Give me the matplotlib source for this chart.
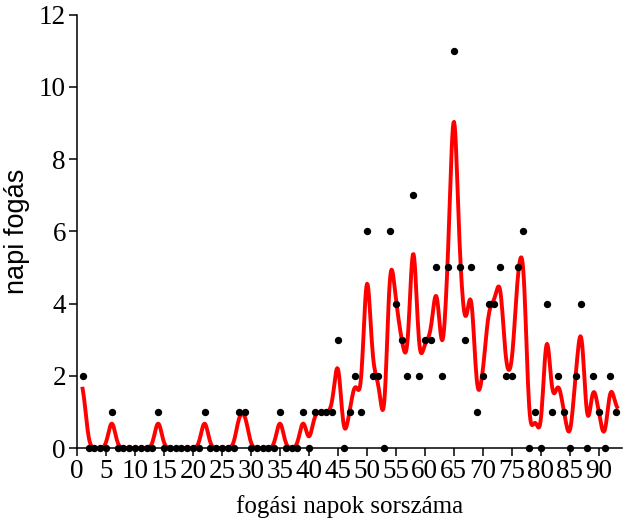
import matplotlib.pyplot as plt
import numpy as np

# daily catch per fishing day
days = np.arange(1, 94)
catch = [2, 0, 0, 0, 0, 1, 0, 0, 0, 0,
         0, 0, 0, 1, 0, 0, 0, 0, 0, 0,
         0, 1, 0, 0, 0, 0, 0, 1, 1, 0,
         0, 0, 0, 0, 1, 0, 0, 0, 1, 0,
         1, 1, 1, 1, 3, 0, 1, 2, 1, 6,
         2, 2, 0, 6, 4, 3, 2, 7, 2, 3,
         3, 5, 2, 5, 11, 5, 3, 5, 1, 2,
         4, 4, 5, 2, 2, 5, 6, 0, 1, 0,
         4, 1, 2, 1, 0, 2, 4, 0, 2, 1,
         0, 2, 1]
catch = np.array(catch, dtype=float)

x_ticks = np.arange(0, 91, 5)
y_ticks = np.arange(0, 13, 2)

# gaussian kernel smoother over the daily values
bandwidth = 0.59
grid = np.linspace(0.9, 93.3, 900)
w = np.exp(-(grid[:, None] - days[None, :])**2 / (2 * bandwidth**2))
smooth = (w * catch).sum(axis=1) / w.sum(axis=1)

fig = plt.figure(figsize=(6.24, 5.24), dpi=100)
ax = fig.add_axes([0.1234, 0.145, 0.8734, 0.827])

ax.plot(grid, smooth, color='red', lw=2.8, solid_capstyle='butt', zorder=2, clip_on=False)
ax.scatter(days, catch, s=28, color='black', zorder=3, clip_on=False, linewidths=0)

ax.set_xlim(0, 94)
ax.set_ylim(0, 12)
ax.set_xticks(x_ticks)
ax.set_yticks(y_ticks)

for s in ['top', 'right']:
    ax.spines[s].set_visible(False)
for s in ['left', 'bottom']:
    ax.spines[s].set_linewidth(1.1)

ax.tick_params(direction='out', length=6, width=1.1, pad=2)
for lab in ax.get_xticklabels() + ax.get_yticklabels():
    lab.set_family('Liberation Serif')
    lab.set_fontsize(19.5)

ax.set_xlabel('fogási napok sorszáma', family='Liberation Serif', fontsize=18, labelpad=8)
ax.set_ylabel('napi fogás', family='Liberation Sans', fontsize=19.5, labelpad=6)

fig.savefig('out.png', dpi=100)
